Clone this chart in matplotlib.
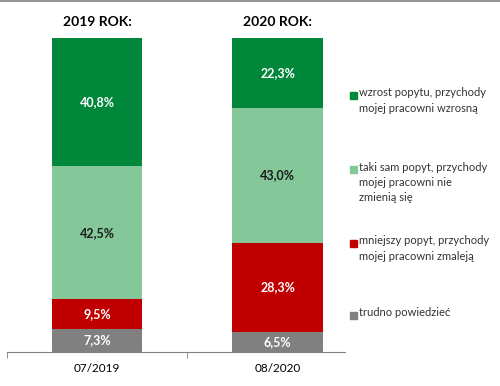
import matplotlib
matplotlib.use("Agg")
import matplotlib.pyplot as plt
from matplotlib.lines import Line2D
from matplotlib.patches import Rectangle

plt.rcParams['font.family'] = ['Lato', 'DejaVu Sans']

# data
periods = ["07/2019", "08/2020"]
titles = ["2019 ROK:", "2020 ROK:"]
trudno = [7.3, 6.5]
mniejszy = [9.5, 28.3]
taki_sam = [42.5, 43.0]
wzrost = [40.8, 22.3]

series = [
    ("trudno powiedzieć", trudno, "#808080", "white"),
    ("mniejszy popyt, przychody\nmojej pracowni zmaleją", mniejszy, "#C00000", "white"),
    ("taki sam popyt, przychody\nmojej pracowni nie\nzmienią się", taki_sam, "#84C89A", "#1a1a1a"),
    ("wzrost popytu, przychody\nmojej pracowni wzrosną", wzrost, "#00873A", "white"),
]

W, H = 500, 386
fig = plt.figure(figsize=(W / 100, H / 100), dpi=100)
ax = fig.add_axes([0.014, 0.088, 0.676, 0.814])

x = list(range(len(periods)))
bottom = [0, 0]
for name, vals, col, tcol in series:
    ax.bar(x, vals, width=0.5, bottom=bottom, color=col, edgecolor="none")
    for i, v in enumerate(vals):
        ax.text(x[i], bottom[i] + v / 2, ("%.1f%%" % v).replace(".", ","),
                ha="center", va="center", color=tcol, fontsize=9, fontweight="bold")
    bottom = [b + v for b, v in zip(bottom, vals)]

for i, t in enumerate(titles):
    ax.text(x[i], 105, t, ha="center", va="center", fontsize=10,
            fontweight="bold", clip_on=False)

ax.set_xlim(-0.5, 1.374)
ax.set_ylim(0, 100.1)
ax.set_xticks(x)
ax.set_xticklabels(periods, fontsize=8.5)
ax.tick_params(axis="x", which="major", length=0, pad=8)
ax.set_xticks([-0.5, 0.5], minor=True)
ax.tick_params(axis="x", which="minor", length=4, color="#808080")
ax.set_yticks([])
for s in ["top", "right", "left"]:
    ax.spines[s].set_visible(False)
ax.spines["bottom"].set_color("#808080")

# legend (top to bottom), first-line y in pixels
leg_y = [95, 169, 243, 315]
for (name, vals, col, tcol), yp in zip(series[::-1], leg_y):
    fy = 1 - yp / H
    fig.add_artist(Rectangle((350 / W, fy - 3.5 / H), 7 / W, 7 / H,
                             color=col, transform=fig.transFigure))
    fig.text(359 / W, fy + 7.5 / H, name, ha="left", va="top", fontsize=8,
             linespacing=1.45, color="#333333")

fig.add_artist(Line2D([0, 1], [0.997, 0.997], color="#808080", lw=1.2))

fig.savefig("out.png", dpi=100)
